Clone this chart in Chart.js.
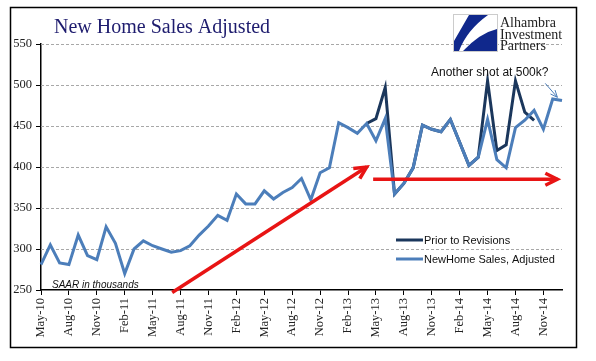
<!DOCTYPE html>
<html>
<head>
<meta charset="utf-8">
<script src="https://cdn.jsdelivr.net/npm/chart.js@4.4.1/dist/chart.umd.min.js"></script>
<style>
  html, body { margin: 0; padding: 0; background: #fff; }
  #wrap { width: 596px; height: 361px; }
</style>
</head>
<body>
<div id="wrap"><canvas id="myChart" width="596" height="361"></canvas></div>
<script>
// data (thousands, SAAR)
const months = [
  'May-10','Jun-10','Jul-10','Aug-10','Sep-10','Oct-10','Nov-10','Dec-10',
  'Jan-11','Feb-11','Mar-11','Apr-11','May-11','Jun-11','Jul-11','Aug-11','Sep-11','Oct-11','Nov-11','Dec-11',
  'Jan-12','Feb-12','Mar-12','Apr-12','May-12','Jun-12','Jul-12','Aug-12','Sep-12','Oct-12','Nov-12','Dec-12',
  'Jan-13','Feb-13','Mar-13','Apr-13','May-13','Jun-13','Jul-13','Aug-13','Sep-13','Oct-13','Nov-13','Dec-13',
  'Jan-14','Feb-14','Mar-14','Apr-14','May-14','Jun-14','Jul-14','Aug-14','Sep-14','Oct-14','Nov-14','Dec-14',
  'Jan-15'
];
const adjusted = [
  281, 305, 283, 281, 317, 292, 287, 327,
  307, 270, 300, 310, 304, 300, 296, 298, 304, 317, 328, 341,
  335, 367, 355, 355, 371, 361, 369, 375, 386, 360, 393, 399,
  454, 448, 441, 453, 432, 459, 367, 380, 399, 451, 446, 443,
  458, 430, 402, 412, 458, 409, 399, 448, 457, 469, 446, 483,
  481
];
const prior = [
  null, null, null, null, null, null, null, null,
  null, null, null, null, null, null, null, null, null, null, null, null,
  null, null, null, null, null, null, null, null, null, null, null, null,
  null, null, null, 453, 459, 497, 367, 380, 399, 451, 446, 443,
  458, 430, 402, 412, 505, 420, 427, 505, 467, 457, null, null,
  null
];
const yTicks = [250, 300, 350, 400, 450, 500, 550];

const blue = 'rgb(76, 126, 186)';
const navy = 'rgb(27, 55, 92)';
const red = 'rgb(232, 20, 20)';

function arrow(ctx, x1, y1, x2, y2, head, spread) {
  const a = Math.atan2(y2 - y1, x2 - x1);
  ctx.beginPath();
  ctx.moveTo(x1, y1);
  ctx.lineTo(x2, y2);
  ctx.stroke();
  ctx.beginPath();
  ctx.moveTo(x2 - head * Math.cos(a) + spread * Math.sin(a), y2 - head * Math.sin(a) - spread * Math.cos(a));
  ctx.lineTo(x2, y2);
  ctx.lineTo(x2 - head * Math.cos(a) - spread * Math.sin(a), y2 - head * Math.sin(a) + spread * Math.cos(a));
  ctx.stroke();
}

const extras = {
  id: 'extras',
  beforeDraw(chart) {
    const ctx = chart.ctx;
    ctx.save();
    ctx.fillStyle = '#fff';
    ctx.fillRect(0, 0, chart.width, chart.height);
    ctx.restore();
  },
  beforeDatasetsDraw(chart) {
    // dashed horizontal gridlines
    const ctx = chart.ctx;
    const y = chart.scales.y, area = chart.chartArea;
    ctx.save();
    ctx.strokeStyle = '#a8a8a8';
    ctx.lineWidth = 1;
    ctx.setLineDash([3, 2]);
    yTicks.forEach(v => {
      if (v === 250) return;
      const py = Math.round(y.getPixelForValue(v)) + 0.5;
      ctx.beginPath();
      ctx.moveTo(area.left, py);
      ctx.lineTo(area.right, py);
      ctx.stroke();
    });
    ctx.restore();
  },
  afterDraw(chart) {
    const ctx = chart.ctx;
    const x = chart.scales.x, y = chart.scales.y;
    ctx.save();

    // red trend arrows
    ctx.strokeStyle = red;
    ctx.lineWidth = 3.5;
    ctx.lineCap = 'butt';
    ctx.lineJoin = 'miter';
    arrow(ctx, x.getPixelForValue(14.1), y.getPixelForValue(247), x.getPixelForValue(35), y.getPixelForValue(400), 12, 6);
    arrow(ctx, x.getPixelForValue(35.7), y.getPixelForValue(385), x.getPixelForValue(55.5), y.getPixelForValue(385), 12, 6);

    // thin pointer to last points
    ctx.strokeStyle = blue;
    ctx.lineWidth = 1;
    arrow(ctx, x.getPixelForValue(54.2), y.getPixelForValue(502), x.getPixelForValue(55.5), y.getPixelForValue(485), 7, 3);

    // title
    ctx.fillStyle = 'rgb(30, 28, 110)';
    ctx.font = '20px "Liberation Serif"';
    ctx.textBaseline = 'alphabetic';
    ctx.textAlign = 'left';
    ctx.fillText('New Home Sales Adjusted', 54, 33);

    // annotation texts
    ctx.fillStyle = '#111';
    ctx.font = '12px "Liberation Sans"';
    ctx.fillText('Another shot at 500k?', 431, 76);
    ctx.font = 'italic 10px "Liberation Sans"';
    ctx.fillText('SAAR in thousands', 52, 288);

    // legend
    ctx.font = '11px "Liberation Sans"';
    ctx.textBaseline = 'middle';
    ctx.lineWidth = 3;
    const legendY = [240, 259];
    chart.data.datasets.forEach((ds, i) => {
      ctx.strokeStyle = ds.borderColor;
      ctx.beginPath();
      ctx.moveTo(396, legendY[i]);
      ctx.lineTo(423, legendY[i]);
      ctx.stroke();
      ctx.fillStyle = '#111';
      ctx.fillText(ds.label, 424, legendY[i] + 0.5);
    });

    // logo
    ctx.strokeStyle = '#ccc';
    ctx.lineWidth = 1;
    ctx.strokeRect(453.5, 14.5, 44, 37);
    ctx.fillStyle = 'rgb(16, 40, 140)';
    ctx.beginPath();
    ctx.moveTo(469, 15);
    ctx.lineTo(488, 15);
    ctx.quadraticCurveTo(467, 30, 459, 51);
    ctx.lineTo(454, 51);
    ctx.lineTo(454, 41);
    ctx.closePath();
    ctx.fill();
    ctx.beginPath();
    ctx.moveTo(463, 51);
    ctx.quadraticCurveTo(480, 33, 497, 29);
    ctx.lineTo(497, 51);
    ctx.closePath();
    ctx.fill();
    ctx.fillStyle = '#222';
    ctx.font = '14px "Liberation Serif"';
    ctx.textBaseline = 'alphabetic';
    ctx.fillText('Alhambra', 500, 27);
    ctx.fillText('Investment', 500, 38.5);
    ctx.fillText('Partners', 500, 50);

    // outer frame
    ctx.strokeStyle = '#000';
    ctx.lineWidth = 1.5;
    ctx.strokeRect(10.5, 7.5, 566, 340);
    ctx.restore();
  }
};

const ctx = document.getElementById('myChart');
const chart = new Chart(ctx, {
  type: 'line',
  data: {
    labels: months,
    datasets: [
      {
        label: 'Prior to Revisions',
        data: prior,
        borderColor: navy,
        borderWidth: 3,
        pointRadius: 0,
        tension: 0,
        spanGaps: false,
        order: 2
      },
      {
        label: 'NewHome Sales, Adjusted',
        data: adjusted,
        borderColor: blue,
        borderWidth: 3,
        pointRadius: 0,
        tension: 0,
        order: 1
      }
    ]
  },
  options: {
    responsive: false,
    animation: false,
    devicePixelRatio: 1,
    layout: { padding: { top: 44, right: 34, left: 0, bottom: 0 } },
    plugins: {
      legend: { display: false },
      title: { display: false },
      tooltip: { enabled: false }
    },
    scales: {
      x: {
        type: 'category',
        offset: false,
        afterFit: s => { s.height = 71; },
        border: { display: true, color: '#000', width: 1.5 },
        grid: {
          drawOnChartArea: false,
          drawTicks: true,
          tickLength: 5,
          tickColor: c => (c.index % 3 === 0 ? '#000' : 'rgba(0,0,0,0)')
        },
        ticks: {
          autoSkip: false,
          minRotation: 90,
          maxRotation: 90,
          padding: 3,
          color: '#222',
          font: { family: 'Liberation Serif', size: 12.5 },
          callback: (v, i) => (i % 3 === 0 ? months[i] : '')
        }
      },
      y: {
        min: 250,
        max: 550,
        afterFit: s => { s.width = 41; },
        afterBuildTicks: s => { s.ticks = yTicks.map(v => ({ value: v })); },
        border: { display: true, color: '#000', width: 1.5 },
        grid: {
          drawOnChartArea: false,
          tickLength: 5,
          tickColor: '#000'
        },
        ticks: {
          padding: 4,
          color: '#222',
          font: { family: 'Liberation Serif', size: 12.5 }
        }
      }
    }
  },
  plugins: [extras]
});
</script>
</body>
</html>
